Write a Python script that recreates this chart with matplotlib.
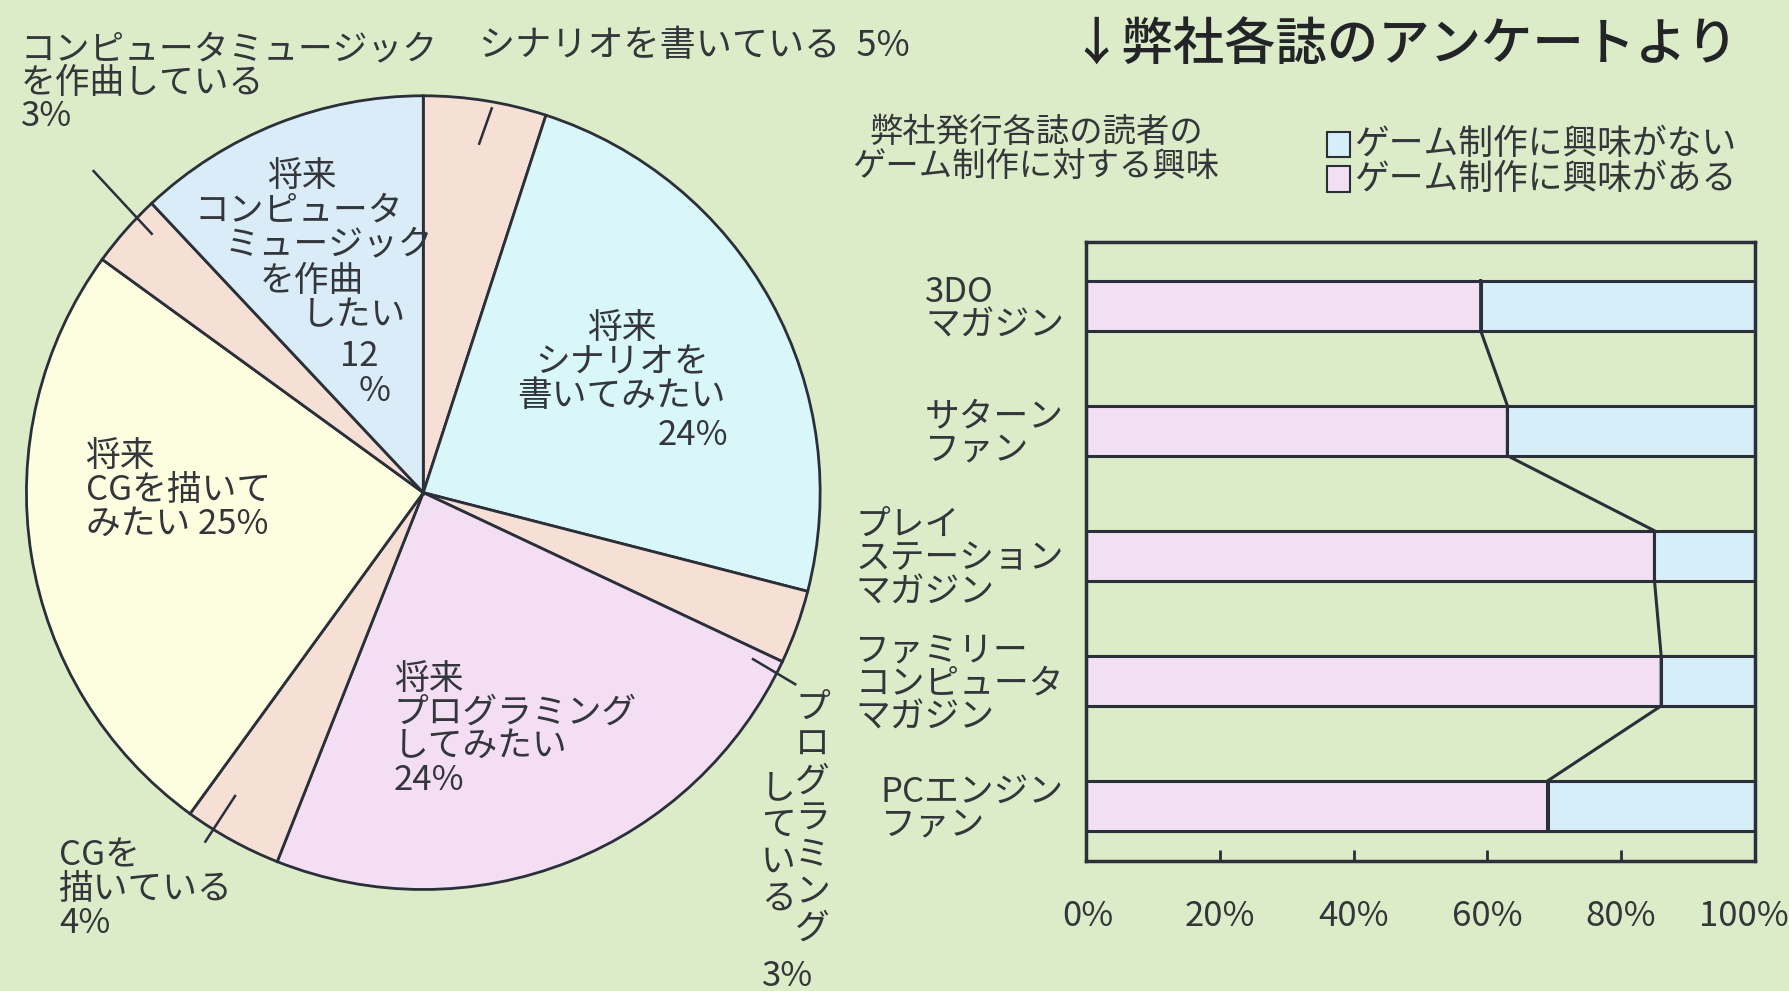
import numpy as np
import matplotlib
matplotlib.use("Agg")
import matplotlib.pyplot as plt
import matplotlib.transforms as mtransforms
from matplotlib.patches import Rectangle

plt.rcParams['font.family'] = ['Noto Sans CJK JP', 'DejaVu Sans']

# --- pie data (clockwise from 12 o'clock)
pie_labels = ["シナリオを書いている", "将来シナリオを書いてみたい", "プログラミングしている",
              "将来プログラミングしてみたい", "CGを描いている", "将来CGを描いてみたい",
              "コンピュータミュージックを作曲している", "将来コンピュータミュージックを作曲したい"]
pie_values = [5, 24, 3, 24, 4, 25, 3, 12]
pie_colors = ["#f6e0d6", "#d9f6f8", "#f6e0d6", "#f4def4", "#f6e0d6", "#fdfde0", "#f6e0d6", "#d9ecf8"]

# --- bar data
magazines = ["3DO\nマガジン", "サターン\nファン", "プレイ\nステーション\nマガジン",
             "ファミリー\nコンピュータ\nマガジン", "PCエンジン\nファン"]
interested = [59, 63, 85, 86, 69]
not_interested = [100 - v for v in interested]
xticks = [0, 20, 40, 60, 80, 100]
xtick_labels = ["0%", "20%", "40%", "60%", "80%", "100%"]

BG = "#dcebc8"
EDGE = "#2a2f3a"
TXT = "#33363a"
W, H = 1568.0, 869.0  # layout measured on the shrunk reference


def fx(x):
    return x / W


def fy(y):
    return 1 - y / H


fig = plt.figure(figsize=(17.89, 9.91), dpi=100, facecolor=BG)

# pie
cx, cy, r = 371, 432, 348
axp = fig.add_axes([fx(cx - r), fy(cy + r), 2 * r / W, 2 * r / H])
axp.pie(pie_values, colors=pie_colors, startangle=90, counterclock=False,
        wedgeprops=dict(edgecolor=EDGE, linewidth=2.0))
axp.set_xlim(-1.0, 1.0)
axp.set_ylim(-1.0, 1.0)
axp.set_aspect('equal')
axp.axis('off')

fs = 25
kw = dict(color=TXT, fontsize=fs, linespacing=0.95)
fig.text(fx(18), fy(28), "コンピュータミュージック\nを作曲している\n3%", ha='left', va='top', **kw)
fig.text(fx(420), fy(40), "シナリオを書いている  5%", ha='left', va='center', color=TXT, fontsize=26)

# the 12% label is set in a ragged stack inside its narrow wedge
cm_lines = ["将来", "コンピュータ", "ミュージック", "を作曲", "したい", "12", "%"]
cm_x = [265, 262, 288, 273, 310, 315, 328]
cm_y = [155, 185, 215, 247, 277, 313, 343]
for s, xx, yy in zip(cm_lines, cm_x, cm_y):
    fig.text(fx(xx), fy(yy), s, ha='center', va='center', color=TXT, fontsize=fs)

fig.text(fx(545), fy(318), "将来\nシナリオを\n書いてみたい", ha='center', va='center', multialignment='center', **kw)
fig.text(fx(638), fy(382), "24%", ha='right', va='center', **kw)
fig.text(fx(75), fy(430), "将来\nCGを描いて\nみたい 25%", ha='left', va='center', **kw)
fig.text(fx(345), fy(640), "将来\nプログラミング\nしてみたい\n24%", ha='left', va='center', **kw)
fig.text(fx(52), fy(780), "CGを\n描いている\n4%", ha='left', va='center', **kw)
fig.text(fx(712), fy(718), "\n".join("プログラミング"), ha='center', va='center', linespacing=1.07,
         color=TXT, fontsize=fs)
fig.text(fx(682), fy(740), "\n".join("している"), ha='center', va='center', linespacing=1.07,
         color=TXT, fontsize=fs)
fig.text(fx(690), fy(856), "3%", ha='center', va='center', **kw)

# leader lines
for (x0, y0, x1, y1) in [(420, 126, 431, 95), (82, 150, 133, 205), (180, 738, 206, 698), (660, 578, 697, 600)]:
    fig.add_artist(plt.Line2D([fx(x0), fx(x1)], [fy(y0), fy(y1)], color=EDGE, linewidth=1.8))

# bar chart
axb = fig.add_axes([fx(952), fy(755), (1538 - 952) / W, (755 - 212) / H])
axb.set_facecolor(BG)
ypos = np.arange(len(magazines))
bh = 0.4
axb.barh(ypos, interested, height=bh, color="#f2e0f2", edgecolor=EDGE, linewidth=2.2)
axb.barh(ypos, not_interested, left=interested, height=bh, color="#d5eef8", edgecolor=EDGE, linewidth=2.2)
lx, ly = [], []
for i, v in enumerate(interested):
    lx += [v, v]
    ly += [i - bh / 2, i + bh / 2]
axb.plot(lx, ly, color=EDGE, linewidth=2.2)
axb.set_xlim(0, 100)
axb.set_ylim(4.44, -0.51)
axb.set_xticks(xticks)
axb.set_xticklabels([])
axb.set_yticks(ypos)
axb.set_yticklabels(magazines, multialignment='left')
axb.tick_params(axis='x', direction='in', length=8, width=2, colors=EDGE)
axb.tick_params(axis='y', length=0, labelsize=fs, pad=16, labelcolor=TXT)
for s in axb.spines.values():
    s.set_linewidth(2.5)
    s.set_color(EDGE)
for lab in axb.get_yticklabels():
    lab.set_linespacing(0.95)

# x tick labels, the last one nudged inward like the print
blend = mtransforms.blended_transform_factory(axb.transData, axb.transAxes)
nudge = [0.3, 0, 0, 0, 0, -1.6]
for t, lab, dx in zip(xticks, xtick_labels, nudge):
    axb.text(t + dx, -0.09, lab, transform=blend, ha='center', va='center', color=TXT, fontsize=fs)

# titles and legend
fig.text(fx(938), fy(40), "↓弊社各誌のアンケートより", ha='left', va='center', fontsize=37,
         color="#222428", fontweight='medium')
fig.text(fx(908), fy(131), "弊社発行各誌の読者の\nゲーム制作に対する興味", ha='center', va='center',
         multialignment='center', color=TXT, fontsize=24, linespacing=0.95)
for k, (lab, col) in enumerate([("ゲーム制作に興味がない", "#d5eef8"), ("ゲーム制作に興味がある", "#f2e0f2")]):
    yy = 127 + 30 * k
    fig.add_artist(Rectangle((fx(1163), fy(yy + 11)), 20 / W, 22 / H, facecolor=col, edgecolor=EDGE,
                             linewidth=1.5, transform=fig.transFigure))
    fig.text(fx(1187), fy(yy), lab, ha='left', va='center', color=TXT, fontsize=25)

fig.savefig("out.png", dpi=100, facecolor=BG)
